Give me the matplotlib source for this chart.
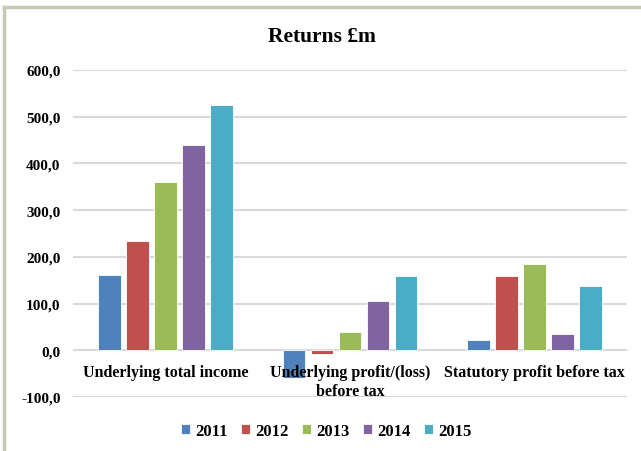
import matplotlib.pyplot as plt
import numpy as np
from matplotlib.lines import Line2D
import matplotlib.transforms as mtransforms

categories = ["Underlying total income", "Underlying profit/(loss)\nbefore tax", "Statutory profit before tax"]
years = ["2011", "2012", "2013", "2014", "2015"]
values = {
    "2011": [162, -60, 23],
    "2012": [234, -9, 160],
    "2013": [361, 39, 184],
    "2014": [439, 105, 34],
    "2015": [524, 160, 137],
}
colors = ["#4F81BD", "#C0504D", "#9BBB59", "#8064A2", "#4BACC6"]

plt.rcParams['font.family'] = ['Liberation Serif', 'DejaVu Serif']
plt.rcParams['font.weight'] = 'bold'

fig = plt.figure(figsize=(6.41, 4.52), dpi=100)
ax = fig.add_axes([0.114, 0.1195, 0.864, 0.7235])

# picture frame (top and left edges visible)
fig.add_artist(Line2D([0.007, 0.007], [0, 0.983], transform=fig.transFigure, color="#C8C8B4", lw=2.5))
fig.add_artist(Line2D([0.007, 1.0], [0.983, 0.983], transform=fig.transFigure, color="#C8C8B4", lw=2.5))

x = np.arange(len(categories))
slot = 0.152
width = 0.122
for i, year in enumerate(years):
    ax.bar(x + (i - 2) * slot, values[year], width, color=colors[i], edgecolor="white", linewidth=0.6, label=year, zorder=3)

ax.set_xlim(-0.5, 2.5)
ax.set_ylim(-100, 600)
ax.set_yticks(np.arange(-100, 601, 100))
ax.set_yticklabels(["{:.1f}".format(v).replace(".", ",") for v in np.arange(-100, 601, 100)], fontsize=11, fontweight="bold")
ax.yaxis.grid(True, color="#D9D9D9", lw=1.5, zorder=0)
ax.tick_params(axis="y", length=0, pad=9)
ax.set_xticks([])
for s in ax.spines.values():
    s.set_visible(False)

trans = mtransforms.blended_transform_factory(ax.transData, ax.transData)
for xi, cat in zip(x, categories):
    ax.text(xi, 0, cat, transform=trans, ha="center", va="top", fontsize=11.5, fontweight="bold",
            linespacing=1.2).set_transform(trans + mtransforms.ScaledTranslation(0, -10 / 72, fig.dpi_scale_trans))

fig.text(0.502, 0.918, "Returns £m", ha="center", va="center", fontsize=15.5, fontweight="bold")

fig.legend(loc="center", bbox_to_anchor=(0.509, 0.044), ncol=5, frameon=False,
           handlelength=0.55, handleheight=0.55, handletextpad=0.3, columnspacing=0.8,
           prop={"weight": "bold", "size": 12})

fig.savefig("out.png", dpi=100)
